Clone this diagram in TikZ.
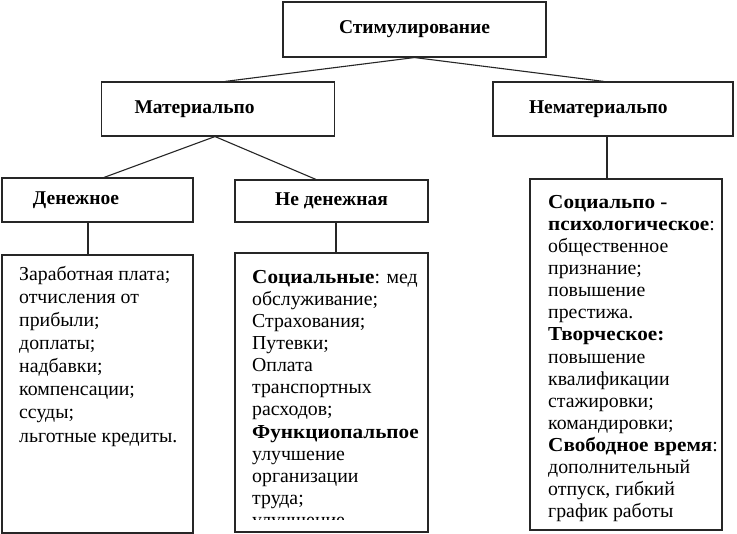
\documentclass[tikz,border=0pt]{standalone}
\usepackage{fontspec}
\setmainfont{Liberation Serif}
\newcommand\bb[1]{{\bfseries\addfontfeature{FakeStretch=1.07}#1}}
\begin{document}
\begin{tikzpicture}[x=1bp,y=-1bp,
  box/.style={draw=black!85, line width=1.1bp, inner sep=0pt},
  hd/.style={font=\fontsize{19.5bp}{22bp}\selectfont\bfseries},
  txt/.style={inner sep=0pt, align=left, anchor=north west, font=\fontsize{19.8bp}{22.1bp}\selectfont},
  conn/.style={draw=black!85, line width=1.1bp}]
\useasboundingbox[fill=white] (0,0) rectangle (737,534);
% header boxes
\node[box, hd, minimum width=263bp, minimum height=55bp] (top) at (414.5,29.5) {\raisebox{2bp}{Стимулирование}};
\node[box, hd, text width=233bp, align=left, minimum height=54bp] (mat) at (218,109) {\hspace*{33bp}\raisebox{2bp}{Материальпо}};
\node[box, hd, text width=240bp, align=left, minimum height=54bp] (nemat) at (613,109) {\hspace*{36bp}\raisebox{2bp}{Нематериальпо}};
\node[box, hd, text width=191bp, align=left, minimum height=44bp] (den) at (97.5,200) {\hspace*{31bp}Денежное};
\node[box, hd, minimum width=193bp, minimum height=42bp] (nonden) at (331.5,201) {Не денежная};
% body boxes
\node[box, minimum width=191bp, minimum height=278bp] (denb) at (97.5,394) {};
\node[box, minimum width=193bp, minimum height=279bp] (ndb) at (331.5,392.5) {};
\node[box, minimum width=192bp, minimum height=351bp] (nmb) at (626,354.5) {};
% connectors
\draw[conn] (top.south) -- ([xshift=7bp]mat.north);
\draw[conn] (top.south) -- ([xshift=-9bp]nemat.north);
\draw[conn] ([xshift=-3bp]mat.south) -- ([xshift=6.5bp]den.north);
\draw[conn] ([xshift=-3bp]mat.south) -- ([xshift=-15.5bp]nonden.north);
\draw[conn] ([xshift=-9.5bp]den.south) -- ([xshift=-9.5bp]denb.north);
\draw[conn] ([xshift=4.5bp]nonden.south) -- ([xshift=4.5bp]ndb.north);
\draw[conn] ([xshift=-6bp]nemat.south) -- ([xshift=-6bp]nemat.south |- nmb.north);
% texts
\node[txt, font=\fontsize{19.8bp}{23.1bp}\selectfont] (t1) at (19,266) {Заработная плата;\\отчисления от\\прибыли;\\доплаты;\\надбавки;\\компенсации;\\ссуды;\\льготные кредиты.};
\begin{scope}
\clip (236,254) rectangle (427,519);
\node[txt] (t2) at (252,270) {\bb{Социальные}: мед\\обслуживание;\\Страхования;\\Путевки;\\Оплата\\транспортных\\расходов;\\\bb{Функциопальпое}\\улучшение\\организации\\труда;\\улучшение};
\end{scope}
\node[txt] (t3) at (548,195) {\bb{Социальпо -}\\\bb{психологическое}:\\общественное\\признание;\\повышение\\престижа.\\\bb{Творческое:}\\повышение\\квалификации\\стажировки;\\командировки;\\\bb{Свободное время}:\\дополнительный\\отпуск, гибкий\\график работы};
\end{tikzpicture}
\end{document}
